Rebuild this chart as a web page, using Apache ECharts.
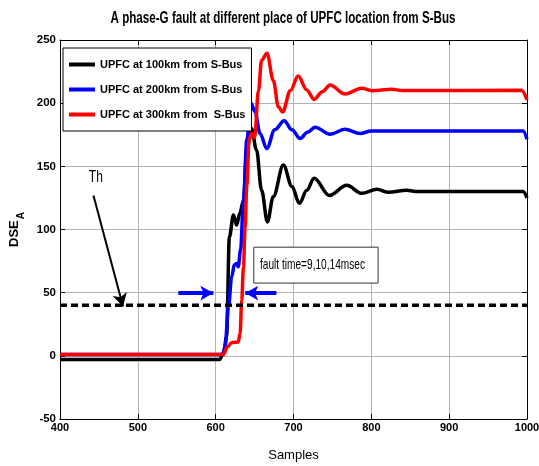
<!DOCTYPE html>
<html><head><meta charset="utf-8">
<script src="https://cdn.jsdelivr.net/npm/echarts@6/dist/echarts.min.js"></script>
<style>html,body{margin:0;padding:0;background:#fff}#c{width:539px;height:466px}</style>
</head><body><div id="c"></div><script>
const SANS = '"Liberation Sans",Arial,Helvetica,sans-serif';
const titleText = 'A phase-G fault at different place of UPFC location from S-Bus';
const xAxisName = 'Samples';
const seriesNames = ['UPFC at 100km from S-Bus', 'UPFC at 200km from S-Bus', 'UPFC at 300km from  S-Bus'];
const xTicks = {min: 400, max: 1000, interval: 100};
const yTicks = {min: -50, max: 250, interval: 50};

const blackX = [400, 605, 610, 614, 617.6, 622.8, 627, 631, 635.7, 640, 646, 652.5, 659, 666.5, 674, 687, 698, 707.6, 717, 726.5, 746, 768.5, 787.7, 807, 822, 845, 860, 995, 1000];
const blackY = [-3, -3, 2, 15, 94, 111.5, 103.5, 112.8, 123, 163, 180, 163, 131, 106, 126, 151, 134, 120.7, 131, 140.5, 127, 135, 128.6, 131.8, 129.4, 131, 130, 130, 125];

const blueX = [400, 609, 612, 616.5, 620.6, 624, 627, 629, 632, 635.7, 640, 645.5, 650.6, 657, 665.6, 676, 688, 698, 708.5, 718, 727.7, 747, 766, 785.6, 800, 995, 1000];
const blueY = [1, 1, 7, 39, 62.6, 72, 73, 70.5, 84, 123, 171, 200, 193, 176, 164, 179, 186, 179, 172, 177, 181, 175.4, 179.3, 176, 178, 178, 171.5];

const redX = [400, 610, 615, 620.6, 629, 631.4, 633.5, 635.7, 637.8, 640, 643, 646, 650, 655, 659, 666, 674, 680.6, 686, 696, 706, 717, 726.5, 737, 747, 766, 787.8, 800.6, 826, 840, 993, 1000];
const redY = [1, 1, 7, 10.4, 11, 17.8, 44, 70.5, 102, 135, 171, 176, 172.6, 210, 234, 239.5, 218, 197, 193, 210, 221.5, 210.5, 203, 209, 214.4, 207.3, 211.8, 209.9, 211, 210, 210.2, 202.5];

const thresholdX = [400, 1000];
const thresholdY = [40, 40];

// annotations (data coordinates)
const thLabel = {text: 'Th', x: 446, y: 141};
const thArrow = [[443, 127], [481, 39]];
const faultLabel = {text: 'fault time=9,10,14msec', x: 657, y: 72};
const faultBox = [[649, 86], [808.7, 57.6]];
const blueArrows = [[[552, 49.7], [597, 49.7]], [[678, 49.7], [638, 49.7]]];

const zip = (xs, ys) => xs.map((x, i) => [x, ys[i]]);

const chart = echarts.init(document.getElementById('c'), null, {renderer: 'canvas'});

const cv = document.createElement('canvas').getContext('2d');
const fitScale = (text, font, target) => { cv.font = font; return target / cv.measureText(text).width; };
const titleFont = 'bold 16px ' + SANS;
const titleScale = fitScale(titleText, titleFont, 345);

const axisCommon = {
  axisLine: {show: true, onZero: false, lineStyle: {color: '#000', width: 1}},
  axisTick: {show: true, inside: true, length: 5, lineStyle: {color: '#000'}},
};

const lineSeries = (name, xs, ys, color) => ({
  name, type: 'line', data: zip(xs, ys), symbol: 'none', smooth: 0.35, smoothMonotone: 'x',
  lineStyle: {color, width: 3.5}, itemStyle: {color}, silent: true
});

chart.setOption({
  animation: false,
  backgroundColor: '#fff',
  grid: {left: 60, right: 12, top: 40, bottom: 47, containLabel: false, outerBoundsMode: 'none'},
  graphic: [{
    id: 'title', type: 'text', x: 283, y: 19, scaleX: titleScale, scaleY: 1,
    style: {text: titleText, font: titleFont, fill: '#000', align: 'center', verticalAlign: 'middle'}
  }],
  legend: {
    data: seriesNames, orient: 'vertical', left: 63, top: 48,
    padding: [9, 6, 9, 6], itemGap: 10, itemWidth: 26, itemHeight: 4, icon: 'rect',
    borderColor: '#000', borderWidth: 1, backgroundColor: '#fff',
    textStyle: {fontFamily: SANS, fontWeight: 'bold', fontSize: 11, lineHeight: 15, color: '#000'}
  },
  xAxis: [
    Object.assign({type: 'value', position: 'bottom', ...xTicks,
      name: xAxisName, nameLocation: 'middle', nameGap: 30,
      nameTextStyle: {fontFamily: SANS, fontSize: 13, color: '#000'},
      axisLabel: {fontFamily: SANS, fontWeight: 'bold', fontSize: 11, color: '#000', margin: 3, formatter: v => String(v)},
      splitLine: {show: true, lineStyle: {color: '#b4b4b4', width: 1}}}, axisCommon),
    Object.assign({type: 'value', position: 'top', ...xTicks,
      axisLabel: {show: false}, splitLine: {show: false}}, axisCommon)
  ],
  yAxis: [
    Object.assign({type: 'value', position: 'left', ...yTicks,
      name: '{a|DSE}{b|A}', nameLocation: 'middle', nameGap: 31,
      nameTextStyle: {rich: {
        a: {fontFamily: SANS, fontWeight: 'bold', fontSize: 13, lineHeight: 13, verticalAlign: 'top', color: '#000'},
        b: {fontFamily: SANS, fontWeight: 'bold', fontSize: 10, padding: [8, 0, 0, 1], verticalAlign: 'bottom', color: '#000'}
      }},
      axisLabel: {fontFamily: SANS, fontWeight: 'bold', fontSize: 11.5, color: '#000', margin: 4, formatter: v => String(v)},
      splitLine: {show: true, lineStyle: {color: '#b4b4b4', width: 1}}}, axisCommon),
    Object.assign({type: 'value', position: 'right', ...yTicks,
      axisLabel: {show: false}, splitLine: {show: false}}, axisCommon)
  ],
  series: [
    lineSeries(seriesNames[0], blackX, blackY, '#000000'),
    lineSeries(seriesNames[1], blueX, blueY, '#0000ff'),
    lineSeries(seriesNames[2], redX, redY, '#ff0000'),
    {
      name: 'Th line', type: 'line', data: zip(thresholdX, thresholdY), symbol: 'none', silent: true,
      lineStyle: {color: '#000', width: 3.5, type: [7, 4]}, z: 3,
      markLine: {
        silent: true, symbol: ['none', 'arrow'], symbolSize: [11, 13], label: {show: false},
        lineStyle: {color: '#0000ff', width: 4, type: 'solid'},
        data: blueArrows.map(a => [{coord: a[0]}, {coord: a[1]}]).concat([
          [{coord: thArrow[0], lineStyle: {color: '#000', width: 2}, symbolSize: [8, 12]}, {coord: thArrow[1]}]
        ])
      }
    }
  ]
});

// annotation texts placed from data coordinates
const toPx = p => chart.convertToPixel({xAxisIndex: 0, yAxisIndex: 0}, p);
const thPx = toPx([thLabel.x, thLabel.y]);
const fPx = toPx([faultLabel.x, faultLabel.y]);
const b0 = toPx(faultBox[0]), b1 = toPx(faultBox[1]);
const thFont = '17px ' + SANS;
const fFont = '15px ' + SANS;
chart.setOption({
  graphic: [
    {id: 'thText', type: 'text', x: thPx[0], y: thPx[1], scaleX: fitScale(thLabel.text, thFont, 14), z: 100,
      style: {text: thLabel.text, font: thFont, fill: '#000', align: 'center', verticalAlign: 'middle'}},
    {id: 'fBox', type: 'rect', z: 99,
      shape: {x: b0[0], y: b0[1], width: b1[0] - b0[0], height: b1[1] - b0[1]},
      style: {fill: '#fff', stroke: '#333', lineWidth: 1}},
    {id: 'fText', type: 'text', x: fPx[0], y: fPx[1], scaleX: fitScale(faultLabel.text, fFont, 105), z: 100,
      style: {text: faultLabel.text, font: fFont, fill: '#000', align: 'left', verticalAlign: 'middle'}}
  ]
});
</script></body></html>
